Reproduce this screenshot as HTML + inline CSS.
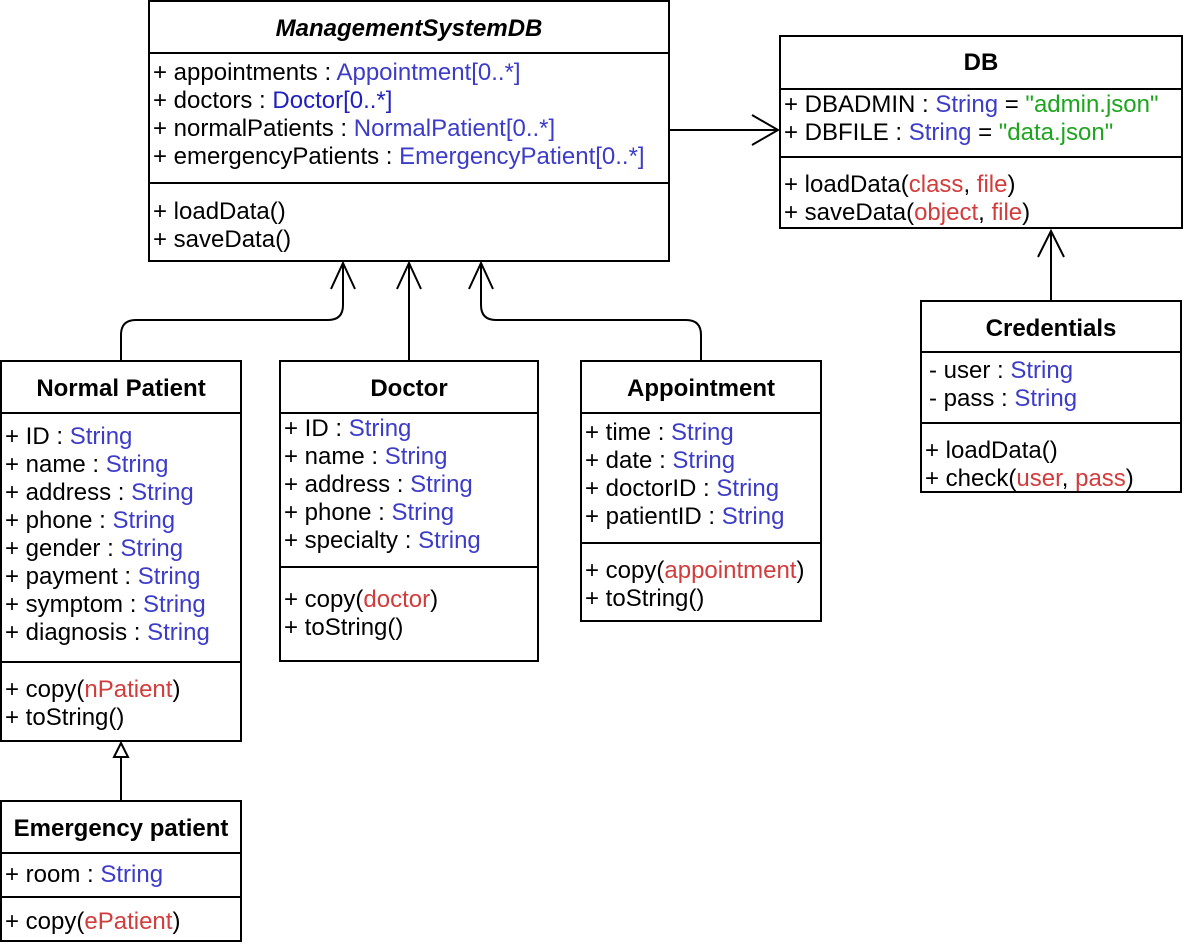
<!DOCTYPE html>
<html><head><meta charset="utf-8"><style>
html,body{margin:0;padding:0;background:#fff;}
svg{display:block;}
text{font-family:"Liberation Sans",Arial,sans-serif;font-size:24px;fill:#000;}
.b{fill:#3c3cc8;}
.r{fill:#d23c3c;}
.g{fill:#1ea51e;}
.h{font-weight:bold;}
</style></head><body>
<svg width="1184" height="944" viewBox="0 0 1184 944" xmlns="http://www.w3.org/2000/svg">
<g fill="#fff" stroke="#000" stroke-width="2">
<rect x="149" y="1" width="520" height="260"/>
<line x1="149" y1="53" x2="669" y2="53"/><line x1="149" y1="183" x2="669" y2="183"/>
<rect x="780" y="36" width="402" height="192"/>
<line x1="780" y1="89" x2="1182" y2="89"/><line x1="780" y1="157" x2="1182" y2="157"/>
<rect x="921" y="301" width="260" height="191"/>
<line x1="921" y1="352" x2="1181" y2="352"/><line x1="921" y1="423" x2="1181" y2="423"/>
<rect x="1" y="361" width="240" height="380"/>
<line x1="1" y1="413" x2="241" y2="413"/><line x1="1" y1="662" x2="241" y2="662"/>
<rect x="280" y="361" width="258" height="300"/>
<line x1="280" y1="413" x2="538" y2="413"/><line x1="280" y1="567" x2="538" y2="567"/>
<rect x="581" y="361" width="240" height="260"/>
<line x1="581" y1="413" x2="821" y2="413"/><line x1="581" y1="543" x2="821" y2="543"/>
<rect x="1" y="801" width="240" height="140"/>
<line x1="1" y1="853" x2="241" y2="853"/><line x1="1" y1="897" x2="241" y2="897"/>
</g>
<g fill="none" stroke="#000" stroke-width="2">
<path d="M669 130 H778"/><path d="M752 115 L778 130 L752 145"/>
<path d="M1051 301 V231"/><path d="M1038 257 L1051 231 L1064 257"/>
<path d="M121 361 V335 Q121 320 136 320 H328 Q343 320 343 305 V263"/><path d="M331 289 L343 263 L355 289"/>
<path d="M409 361 V263"/><path d="M397 289 L409 263 L421 289"/>
<path d="M701 361 V335 Q701 320 686 320 H496 Q481 320 481 305 V263"/><path d="M469 289 L481 263 L493 289"/>
<path d="M121 801 V756"/>
</g>
<path d="M121 743 L114 757 L128 757 Z" fill="#fff" stroke="#000" stroke-width="2"/>

<text x="409" y="36" text-anchor="middle" class="h" font-style="italic">ManagementSystemDB</text>
<text x="153" y="80">+ appointments : <tspan class="b">Appointment[0..*]</tspan></text>
<text x="153" y="108">+ doctors : <tspan fill="#2020c0">Doctor[0..*]</tspan></text>
<text x="153" y="136">+ normalPatients : <tspan class="b">NormalPatient[0..*]</tspan></text>
<text x="153" y="164">+ emergencyPatients : <tspan class="b">EmergencyPatient[0..*]</tspan></text>
<text x="153" y="219">+ loadData()</text>
<text x="153" y="247">+ saveData()</text>

<text x="981" y="70" text-anchor="middle" class="h">DB</text>
<text x="784" y="112">+ DBADMIN : <tspan class="b">String</tspan> = <tspan class="g">"admin.json"</tspan></text>
<text x="784" y="140">+ DBFILE : <tspan class="b">String</tspan> = <tspan class="g">"data.json"</tspan></text>
<text x="784" y="192">+ loadData(<tspan class="r">class</tspan>, <tspan class="r">file</tspan>)</text>
<text x="784" y="220">+ saveData(<tspan class="r">object</tspan>, <tspan class="r">file</tspan>)</text>

<text x="1051" y="336" text-anchor="middle" class="h">Credentials</text>
<text x="929" y="378">- user : <tspan class="b">String</tspan></text>
<text x="929" y="406">- pass : <tspan class="b">String</tspan></text>
<text x="925" y="458">+ loadData()</text>
<text x="925" y="486">+ check(<tspan class="r">user</tspan>, <tspan class="r">pass</tspan>)</text>

<text x="121" y="396" text-anchor="middle" class="h">Normal Patient</text>
<text x="5" y="444">+ ID : <tspan class="b">String</tspan></text>
<text x="5" y="472">+ name : <tspan class="b">String</tspan></text>
<text x="5" y="500">+ address : <tspan class="b">String</tspan></text>
<text x="5" y="528">+ phone : <tspan class="b">String</tspan></text>
<text x="5" y="556">+ gender : <tspan class="b">String</tspan></text>
<text x="5" y="584">+ payment : <tspan class="b">String</tspan></text>
<text x="5" y="612">+ symptom : <tspan class="b">String</tspan></text>
<text x="5" y="640">+ diagnosis : <tspan class="b">String</tspan></text>
<text x="5" y="697">+ copy(<tspan class="r">nPatient</tspan>)</text>
<text x="5" y="725">+ toString()</text>

<text x="409" y="396" text-anchor="middle" class="h">Doctor</text>
<text x="284" y="436">+ ID : <tspan class="b">String</tspan></text>
<text x="284" y="464">+ name : <tspan class="b">String</tspan></text>
<text x="284" y="492">+ address : <tspan class="b">String</tspan></text>
<text x="284" y="520">+ phone : <tspan class="b">String</tspan></text>
<text x="284" y="548">+ specialty : <tspan class="b">String</tspan></text>
<text x="284" y="607">+ copy(<tspan class="r">doctor</tspan>)</text>
<text x="284" y="635">+ toString()</text>

<text x="701" y="396" text-anchor="middle" class="h">Appointment</text>
<text x="585" y="440">+ time : <tspan class="b">String</tspan></text>
<text x="585" y="468">+ date : <tspan class="b">String</tspan></text>
<text x="585" y="496">+ doctorID : <tspan class="b">String</tspan></text>
<text x="585" y="524">+ patientID : <tspan class="b">String</tspan></text>
<text x="585" y="578">+ copy(<tspan class="r">appointment</tspan>)</text>
<text x="585" y="606">+ toString()</text>

<text x="121" y="836" text-anchor="middle" class="h">Emergency patient</text>
<text x="5" y="882">+ room : <tspan class="b">String</tspan></text>
<text x="5" y="929">+ copy(<tspan class="r">ePatient</tspan>)</text>
</svg>
</body></html>
